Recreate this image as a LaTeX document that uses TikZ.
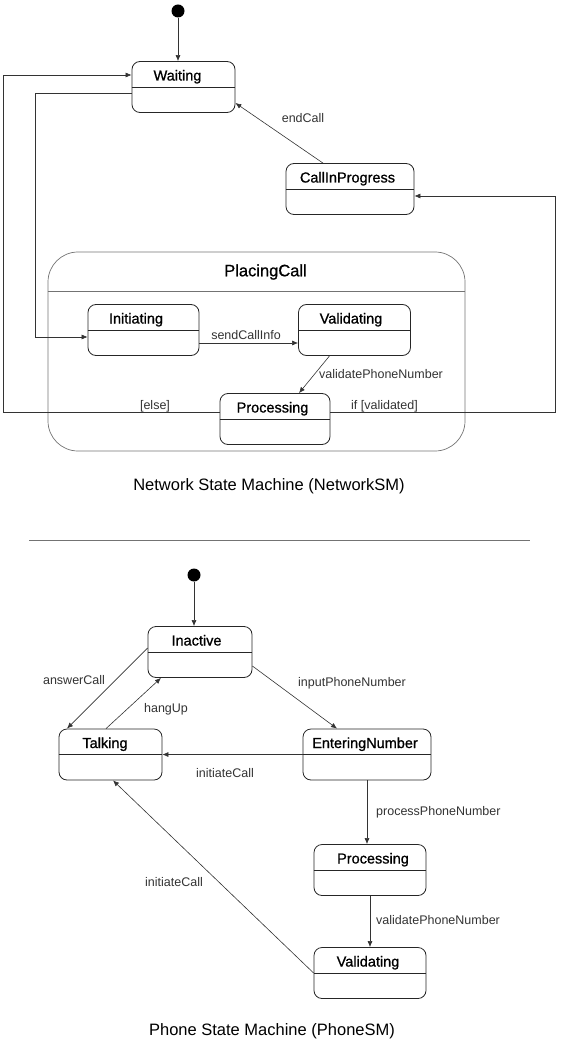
\documentclass[tikz,border=0pt]{standalone}
\usepackage{fontspec}
\setmainfont{Liberation Sans}
\newfontfamily\namefont[FakeBold=0.9]{Liberation Sans}
\usetikzlibrary{arrows.meta,calc}
\begin{document}
\begin{tikzpicture}[x=1pt,y=-1pt,
  stbox/.style={draw=black!85, line width=0.8pt, rounded corners=8pt, inner ysep=0pt, text height=19pt, text depth=32pt, minimum height=51pt, font=\namefont\fontsize{14.5}{16}\selectfont},
  conn/.style={draw=black!80, line width=0.6pt, -{Latex[length=6pt,width=5pt]}},
  lbl/.style={font=\fontsize{12.5}{14}\selectfont, text=black!80, inner sep=0pt},
  startdot/.style={circle, fill=black, inner sep=0pt, minimum size=13pt},
  captxt/.style={font=\fontsize{16.5}{19}\selectfont},
  divline/.style={draw=black!85, line width=0.6pt}
]
\useasboundingbox (0,0) rectangle (560,1040);
% ---------- Network state machine ----------
\node[startdot] (init1) at (178,11) {};
\node[stbox, minimum width=103pt] (waiting) at (183.5,87) {\kern-12pt Waiting};
\node[stbox, minimum width=128pt] (callinprog) at (350,189) {\kern-5pt CallInProgress};
\node[draw=black!55, line width=0.7pt, rounded corners=30pt, minimum width=417pt, minimum height=199pt, inner sep=0pt] (placing) at (256.5,351.5) {};
\node[font=\namefont\fontsize{16.5}{18}\selectfont] (placingT) at (265.5,272) {PlacingCall};
\draw[divline, draw=black!55] ([yshift=-40pt]placing.north west) -- ([yshift=-40pt]placing.north east);
\node[stbox, minimum width=111pt] (initiating) at (143.5,330) {\kern-15pt Initiating};
\node[stbox, minimum width=112pt] (validating) at (354.5,330) {\kern-7pt Validating};
\node[stbox, minimum width=110pt] (processing) at (275,419) {\kern-5pt Processing};

\draw[conn] (init1) -- (init1 |- waiting.north);
\draw[conn] ([yshift=7pt]processing.west) -- ++(-216,0) |- ([yshift=12pt]waiting.west);
\node[lbl] (elseL) at (155,406) {[else]};
\draw[conn] ([yshift=-6pt]waiting.west) -- ++(-96,0) |- ([yshift=-7pt]initiating.west);
\draw[conn] ([yshift=-13pt]initiating.east) -- ([yshift=-13pt]validating.west);
\node[lbl] (sendL) at (246,335) {sendCallInfo};
\draw[conn] ([xshift=-25pt]validating.south) -- ([xshift=24pt]processing.north);
\node[lbl, anchor=west] (valL) at (319,374) {validatePhoneNumber};
\draw[conn] ([yshift=7pt]processing.east) -- ++(225,0) |- ([yshift=-7pt]callinprog.east);
\node[lbl] (ifL) at (384.5,406) {if [validated]};
\draw[conn] ([xshift=-27pt]callinprog.north) -- ([yshift=-16pt]waiting.east);
\node[lbl] (endL) at (303,118) {endCall};
\node[captxt] (cap1) at (269,486) {Network State Machine (NetworkSM)};

\draw[draw=black!55, line width=0.6pt] (29,540) -- (530,540);

% ---------- Phone state machine ----------
\node[startdot] (init2) at (194,575) {};
\node[stbox, minimum width=104pt] (inactive) at (200,652) {\kern-7pt Inactive};
\node[stbox, minimum width=103pt] (talking) at (110.5,754.5) {\kern-11pt Talking};
\node[stbox, minimum width=128pt] (entering) at (367,754.5) {\kern-4pt EnteringNumber};
\node[stbox, minimum width=112pt] (processing2) at (370,870) {\kern6pt Processing};
\node[stbox, minimum width=112pt] (validating2) at (370,973) {\kern-4pt Validating};

\foreach \n in {waiting,callinprog,initiating,validating,processing,inactive,talking,entering,processing2,validating2}
  \draw[divline] (\n.west) -- (\n.east);

\draw[conn] (init2) -- (init2 |- inactive.north);
\draw[conn] ([yshift=4pt]inactive.west) -- ([xshift=-43.5pt]talking.north);
\node[lbl] (ansL) at (74,680) {answerCall};
\draw[conn] ([xshift=-4.5pt]talking.north) -- ([xshift=-39pt]inactive.south);
\node[lbl] (hangL) at (166,709) {hangUp};
\draw[conn] ([yshift=-14pt]inactive.east) -- ([xshift=-30pt]entering.north);
\node[lbl] (inputL) at (352,683) {inputPhoneNumber};
\draw[conn] (entering.west) -- (talking.east);
\node[lbl] (initL) at (225,773) {initiateCall};
\draw[conn] (entering.south) -- (entering.south |- processing2.north);
\node[lbl, anchor=west] (procL) at (376,812) {processPhoneNumber};
\draw[conn] (processing2.south) -- (validating2.north);
\node[lbl, anchor=west] (valL2) at (376,920) {validatePhoneNumber};
\draw[conn] (validating2.west) -- ([xshift=2.5pt]talking.south);
\node[lbl] (initL2) at (174,882) {initiateCall};
\node[captxt] (cap2) at (272,1031) {Phone State Machine (PhoneSM)};
\end{tikzpicture}
\end{document}
